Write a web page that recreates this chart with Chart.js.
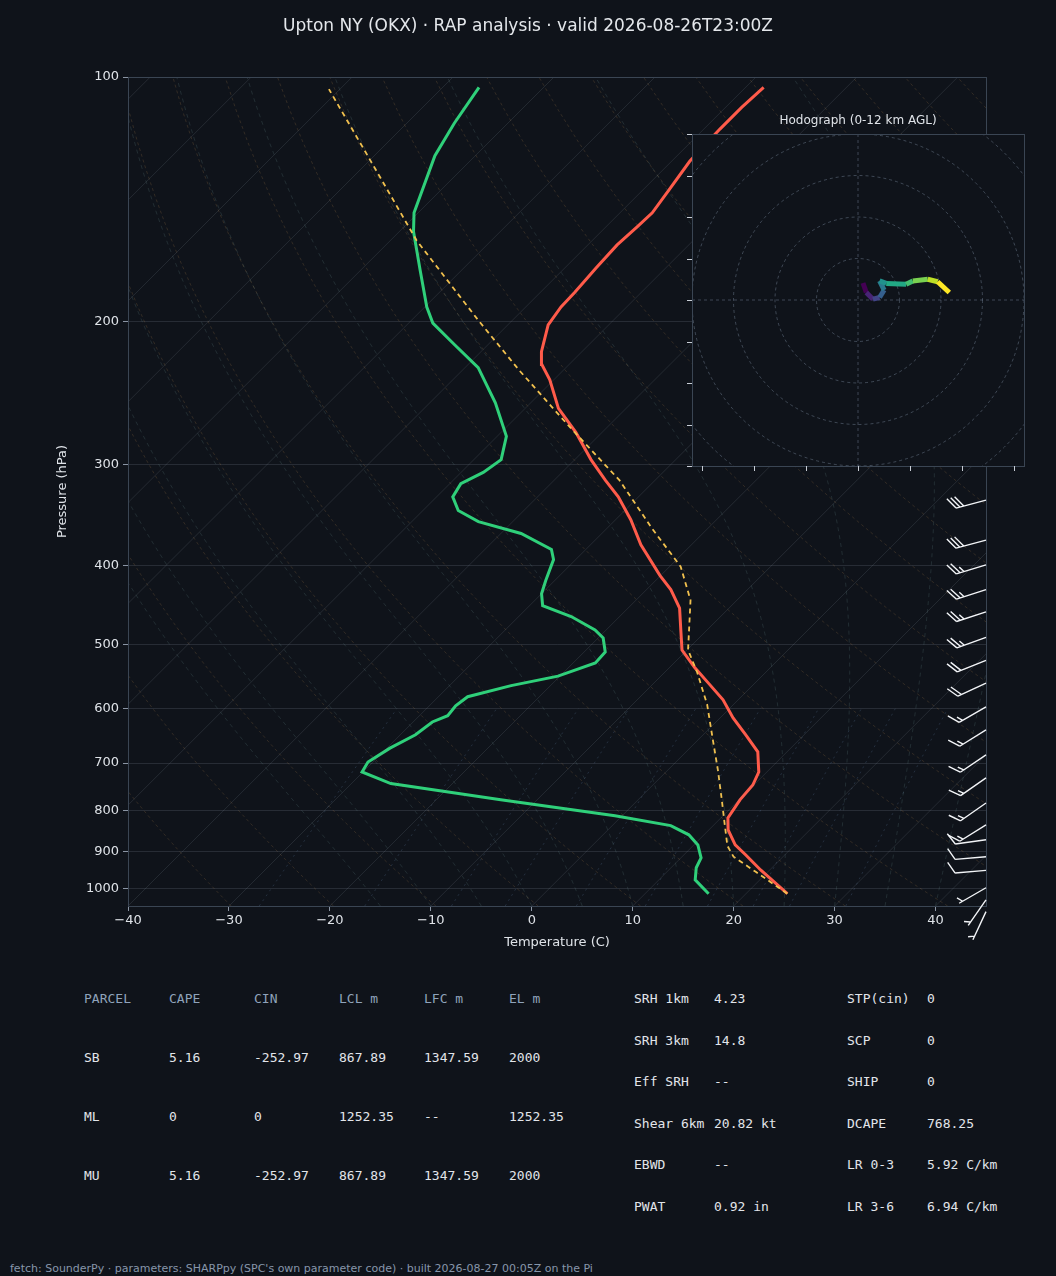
<!DOCTYPE html>
<html>
<head>
<meta charset="utf-8">
<script src="https://cdn.jsdelivr.net/npm/chart.js@4.4.1/dist/chart.umd.min.js"></script>
<style>
  body { margin: 0; background: #0f131a; width: 1056px; height: 1276px; overflow: hidden; position: relative; font-family: "DejaVu Sans", sans-serif; }
  #title { position: absolute; top: 15px; left: 0; width: 1056px; text-align: center; color: #e4e7eb; font-size: 17px; z-index: 5; }
  #skewt { position: absolute; left: 0; top: 0; }
  #hodo { position: absolute; left: 680px; top: 105px; }
  .cell { position: absolute; font-family: "DejaVu Sans Mono", monospace; font-size: 13px; line-height: 16px; color: #e2e5ea; white-space: pre; }
  .head { color: #8fa3bb; }
  #footer { position: absolute; left: 10px; top: 1262px; font-size: 11px; color: #8796aa; }
</style>
</head>
<body>
<canvas id="skewt" width="1056" height="960"></canvas>
<canvas id="hodo" width="360" height="375"></canvas>
<div id="title">Upton NY (OKX)  ·  RAP analysis  ·  valid 2026-08-26T23:00Z</div>
<div id="table"></div>
<div id="footer">fetch: SounderPy · parameters: SHARPpy (SPC's own parameter code) · built 2026-08-27 00:05Z on the Pi</div>
<script>
// ---- sounding ----
const tempP = [1014, 948, 908, 883, 846, 818, 777, 745, 718, 678, 646, 616, 585, 558, 534, 508, 480, 451, 428, 411, 377, 351, 329, 314, 296, 274, 256, 236, 226, 218, 202, 192, 184, 172, 161, 153, 147, 138, 127, 116, 109, 103];
const tempC = [24.1, 19.1, 16.1, 14.1, 11.9, 10.7, 10.1, 9.9, 9.2, 7.1, 4.2, 1.3, -1.5, -4.6, -7.5, -10.5, -12.6, -14.9, -17.6, -20.1, -25.0, -28.5, -32.0, -34.9, -38.4, -42.6, -46.7, -50.4, -52.7, -54.0, -56.0, -56.5, -56.6, -56.9, -57.1, -56.9, -56.8, -57.4, -58.2, -58.4, -58.4, -58.2];
const dewP = [1014, 975, 942, 916, 883, 858, 836, 813, 777, 742, 718, 698, 671, 646, 623, 612, 595, 580, 562, 547, 527, 511, 491, 480, 462, 448, 433, 417, 393, 382, 365, 353, 342, 329, 317, 307, 296, 277, 252, 228, 214, 201, 192, 173, 155, 147, 125, 114, 103];
const dewC = [16.3, 13.6, 12.5, 12.0, 10.4, 8.5, 5.8, -0.7, -13.6, -26.1, -30.1, -30.5, -29.7, -28.5, -28.1, -27.2, -27.4, -27.1, -23.9, -20.2, -17.8, -17.9, -19.5, -21.1, -24.8, -28.7, -30.0, -30.9, -32.2, -33.4, -38.0, -43.4, -46.5, -48.4, -48.9, -47.8, -47.3, -49.1, -53.5, -58.7, -63.2, -67.6, -69.8, -74.1, -78.6, -80.4, -84.0, -85.3, -86.4];
const parcelP = [1014, 953, 913, 885, 822, 777, 713, 656, 593, 541, 508, 441, 401, 360, 314, 270, 230, 199, 159, 130, 103.5];
const parcelC = [24.1, 18.8, 15.1, 13.4, 10.5, 8.3, 4.9, 1.5, -2.6, -6.8, -9.9, -14.6, -18.9, -25.5, -33.5, -43.7, -54.3, -63.5, -77.4, -88.5, -101.1];

// wind barbs
const barbP = [332, 372, 399, 428, 456, 490, 523, 558, 597, 637, 684, 730, 784, 834, 870, 913, 949, 997, 1032, 1067];
const barbKt = [30, 30, 25, 25, 25, 25, 20, 20, 15, 15, 15, 15, 15, 15, 10, 10, 10, 5, 5, 5];
const barbDir = [255, 255, 253, 252, 252, 250, 248, 245, 240, 238, 236, 235, 235, 238, 262, 265, 265, 240, 215, 205];

// hodograph (kt)
const hodoU = [1.2, 2.0, 3.6, 5.2, 6.3, 5.2, 6.8, 11.6, 13.2, 16.8, 19.2, 22.0];
const hodoV = [4.1, 1.8, 0.2, 0.6, 2.4, 4.6, 4.0, 3.8, 4.6, 5.0, 4.4, 1.8];

const pressureTicks = [100, 200, 300, 400, 500, 600, 700, 800, 900, 1000];
const tempTicks = [-40, -30, -20, -10, 0, 10, 20, 30, 40];

// parameter table
const parcelHead = ['PARCEL', 'CAPE', 'CIN', 'LCL m', 'LFC m', 'EL m'];
const parcelRows = [
  ['SB', '5.16', '-252.97', '867.89', '1347.59', '2000'],
  ['ML', '0', '0', '1252.35', '--', '1252.35'],
  ['MU', '5.16', '-252.97', '867.89', '1347.59', '2000']
];
const kinLabels = ['SRH 1km', 'SRH 3km', 'Eff SRH', 'Shear 6km', 'EBWD', 'PWAT'];
const kinValues = ['4.23', '14.8', '--', '20.82 kt', '--', '0.92 in'];
const compLabels = ['STP(cin)', 'SCP', 'SHIP', 'DCAPE', 'LR 0-3', 'LR 3-6'];
const compValues = ['0', '0', '0', '768.25', '5.92 C/km', '6.94 C/km'];

// 45 degree skew: degrees C of shift per decade of pressure
const SKEW = 80.5;
const skewX = (t, p) => t + SKEW * Math.log10(1050 / p);
const profile = (ps, ts) => ps.map((p, i) => ({ x: skewX(ts[i], p), y: p }));

// background reference lines
const levels = [];
for (let p = 1050; p >= 100; p -= 10) levels.push(p);
const refSets = [];
function ref(points, color, dash, width) {
  refSets.push({ data: points, borderColor: color, borderWidth: width || 1, borderDash: dash, pointRadius: 0, showLine: true, tension: 0 });
}
for (let t = -130; t <= 50; t += 10) {
  ref([{ x: skewX(t, 1050), y: 1050 }, { x: skewX(t, 100), y: 100 }], 'rgba(150,160,175,0.16)', []);
}
for (let th = 240; th <= 480; th += 10) {
  ref(levels.map(p => ({ x: skewX(th * Math.pow(p / 1000, 0.2857) - 273.15, p), y: p })), 'rgba(190,140,80,0.2)', [3, 3]);
}
function esat(tc) { return 6.112 * Math.exp(17.67 * tc / (tc + 243.5)); }
for (let t0 = -15; t0 <= 45; t0 += 5) {
  const pts = [];
  let T = t0 + 273.15;
  for (let p = 1050; p >= 100; p -= 5) {
    pts.push({ x: skewX(T - 273.15, p), y: p });
    const es = esat(T - 273.15);
    const rs = 0.622 * es / (p - es);
    const dTdp = (287.04 * T + 2.501e6 * rs) / (p * (1005.7 + 2.501e6 * 2.501e6 * rs * 0.622 / (287.04 * T * T)));
    T -= dTdp * 5;
  }
  ref(pts, 'rgba(110,150,150,0.2)', [4, 4]);
}
for (const w of [0.4, 1, 2, 3, 5, 8, 12, 16, 20, 28]) {
  const pts = [];
  for (let p = 1050; p >= 600; p -= 25) {
    const e = p * w / (622 + w);
    const l = Math.log(e / 6.112);
    pts.push({ x: skewX(243.5 * l / (17.67 - l), p), y: p });
  }
  ref(pts, 'rgba(100,130,170,0.25)', [2, 4]);
}

const chartBg = {
  id: 'chartBg',
  beforeDraw(chart) {
    const { ctx, canvas } = chart;
    ctx.save();
    ctx.fillStyle = '#0f131a';
    ctx.fillRect(0, 0, canvas.width, canvas.height);
    ctx.restore();
  }
};

const skewDecor = {
  id: 'skewDecor',
  afterDraw(chart) {
    const { ctx, chartArea: a, scales } = chart;
    ctx.save();
    ctx.strokeStyle = '#3a4553';
    ctx.lineWidth = 1;
    ctx.strokeRect(a.left + 0.5, a.top + 0.5, a.right - a.left, a.bottom - a.top);
    // axis titles
    ctx.fillStyle = '#dfe3e8';
    ctx.font = '13px "DejaVu Sans"';
    ctx.textAlign = 'center';
    ctx.textBaseline = 'middle';
    ctx.fillText('Temperature (C)', (a.left + a.right) / 2, 943);
    ctx.translate(63, (a.top + a.bottom) / 2);
    ctx.rotate(-Math.PI / 2);
    ctx.fillText('Pressure (hPa)', 0, 0);
    ctx.restore();
    // wind barbs
    ctx.save();
    ctx.strokeStyle = '#f2f4f7';
    ctx.lineWidth = 1.4;
    const L = 31;
    barbP.forEach((p, i) => {
      const bx = a.right, by = scales.y.getPixelForValue(p);
      const d = barbDir[i] * Math.PI / 180;
      const sx = Math.sin(d), sy = -Math.cos(d);
      const px = -sy, py = sx;
      const tx = bx + sx * L, ty = by + sy * L;
      ctx.beginPath();
      ctx.moveTo(bx, by);
      ctx.lineTo(tx, ty);
      let spd = barbKt[i], pos = 0;
      while (spd >= 10) {
        const ox = tx - sx * pos, oy = ty - sy * pos;
        ctx.moveTo(ox, oy);
        ctx.lineTo(ox + (px * 0.87 + sx * 0.5) * 13, oy + (py * 0.87 + sy * 0.5) * 13);
        spd -= 10; pos += 4;
      }
      if (spd >= 5) {
        if (pos === 0) pos = 4;
        const ox = tx - sx * pos, oy = ty - sy * pos;
        ctx.moveTo(ox, oy);
        ctx.lineTo(ox + (px * 0.87 + sx * 0.5) * 6.5, oy + (py * 0.87 + sy * 0.5) * 6.5);
      }
      ctx.stroke();
    });
    ctx.restore();
  }
};

new Chart(document.getElementById('skewt'), {
  type: 'scatter',
  data: {
    datasets: refSets.concat([
      { data: profile(parcelP, parcelC), borderColor: '#f2c14e', borderWidth: 1.8, borderDash: [5, 4], pointRadius: 0, showLine: true },
      { data: profile(dewP, dewC), borderColor: '#2fd07a', borderWidth: 3, pointRadius: 0, showLine: true },
      { data: profile(tempP, tempC), borderColor: '#ff5b4a', borderWidth: 3, pointRadius: 0, showLine: true }
    ])
  },
  options: {
    responsive: false,
    animation: false,
    layout: { padding: { top: 77, right: 70, left: 0, bottom: 0 } },
    plugins: { legend: { display: false }, tooltip: { enabled: false } },
    scales: {
      x: {
        type: 'linear', min: -40, max: 45,
        afterBuildTicks: s => { s.ticks = tempTicks.map(v => ({ value: v })); },
        afterFit: s => { s.height = 54; },
        grid: { display: true, drawOnChartArea: false, color: '#8a94a3', tickLength: 5 },
        border: { color: '#3a4553' },
        ticks: { color: '#dfe3e8', font: { size: 13, family: 'DejaVu Sans' }, padding: 2, callback: v => String(v).replace('-', '\u2212') }
      },
      y: {
        type: 'logarithmic', min: 100, max: 1050, reverse: true,
        afterBuildTicks: s => { s.ticks = pressureTicks.map(v => ({ value: v })); },
        afterFit: s => { s.width = 128; },
        grid: { color: 'rgba(150,160,175,0.18)', tickLength: 5, tickColor: '#8a94a3' },
        border: { color: '#3a4553' },
        ticks: { color: '#dfe3e8', font: { size: 13, family: 'DejaVu Sans' }, padding: 4, callback: v => String(v) }
      }
    }
  },
  plugins: [chartBg, skewDecor]
});

// ---- hodograph inset ----
const viridis = ['#440154', '#482475', '#414487', '#355f8d', '#2a788e', '#21918c', '#22a884', '#44bf70', '#7ad151', '#bddf26', '#fde725'];
const hodoDecor = {
  id: 'hodoDecor',
  beforeDatasetsDraw(chart) {
    const { ctx, chartArea: a, scales } = chart;
    const cx = scales.x.getPixelForValue(0), cy = scales.y.getPixelForValue(0);
    const k = scales.x.getPixelForValue(10) - cx;
    ctx.save();
    ctx.fillStyle = '#0f131a';
    ctx.fillRect(a.left, a.top, a.right - a.left, a.bottom - a.top);
    ctx.beginPath();
    ctx.rect(a.left, a.top, a.right - a.left, a.bottom - a.top);
    ctx.clip();
    ctx.strokeStyle = 'rgba(120,135,155,0.45)';
    ctx.setLineDash([3, 3]);
    ctx.lineWidth = 1;
    for (let r = 1; r <= 5; r++) {
      ctx.beginPath();
      ctx.arc(cx, cy, r * k, 0, Math.PI * 2);
      ctx.stroke();
    }
    ctx.beginPath();
    ctx.moveTo(a.left, cy); ctx.lineTo(a.right, cy);
    ctx.moveTo(cx, a.top); ctx.lineTo(cx, a.bottom);
    ctx.stroke();
    ctx.restore();
  },
  afterDraw(chart) {
    const { ctx, chartArea: a, scales } = chart;
    ctx.save();
    ctx.strokeStyle = '#3a4553';
    ctx.strokeRect(a.left + 0.5, a.top + 0.5, a.right - a.left, a.bottom - a.top);
    ctx.strokeStyle = '#c9ced6';
    ctx.beginPath();
    for (let v = -40; v <= 40; v += 10) {
      const y = Math.round(scales.y.getPixelForValue(v)) + 0.5;
      ctx.moveTo(a.left - 5, y); ctx.lineTo(a.left, y);
    }
    for (let u = -37.5; u <= 40; u += 12.5) {
      const x = Math.round(scales.x.getPixelForValue(u)) + 0.5;
      ctx.moveTo(x, a.bottom); ctx.lineTo(x, a.bottom + 5);
    }
    ctx.stroke();
    ctx.fillStyle = '#dfe3e8';
    ctx.font = '12px "DejaVu Sans"';
    ctx.textAlign = 'center';
    ctx.fillText('Hodograph (0-12 km AGL)', (a.left + a.right) / 2, a.top - 10);
    ctx.restore();
  }
};

new Chart(document.getElementById('hodo'), {
  type: 'scatter',
  data: {
    datasets: [{
      data: hodoU.map((u, i) => ({ x: u, y: hodoV[i] })),
      showLine: true, pointRadius: 0, borderWidth: 5, borderCapStyle: 'butt',
      segment: { borderColor: c => viridis[Math.min(viridis.length - 1, c.p0DataIndex)] }
    }]
  },
  options: {
    responsive: false,
    animation: false,
    layout: { padding: { left: 12, right: 16, top: 29, bottom: 14 } },
    plugins: { legend: { display: false }, tooltip: { enabled: false } },
    scales: {
      x: { type: 'linear', min: -40, max: 40, display: false },
      y: { type: 'linear', min: -40, max: 40, display: false }
    }
  },
  plugins: [hodoDecor]
});

// ---- parameter table ----
const table = document.getElementById('table');
function cell(text, x, y, cls) {
  const d = document.createElement('div');
  d.className = 'cell' + (cls ? ' ' + cls : '');
  d.style.left = x + 'px';
  d.style.top = (y - 8) + 'px';
  d.textContent = text;
  table.appendChild(d);
}
const colX = [84, 169, 254, 339, 424, 509];
parcelHead.forEach((h, j) => cell(h, colX[j], 999, 'head'));
parcelRows.forEach((row, i) => row.forEach((v, j) => cell(v, colX[j], 1058 + i * 59)));
kinLabels.forEach((l, i) => { cell(l, 634, 999 + i * 41.6); cell(kinValues[i], 714, 999 + i * 41.6); });
compLabels.forEach((l, i) => { cell(l, 847, 999 + i * 41.6); cell(compValues[i], 927, 999 + i * 41.6); });
</script>
</body>
</html>
